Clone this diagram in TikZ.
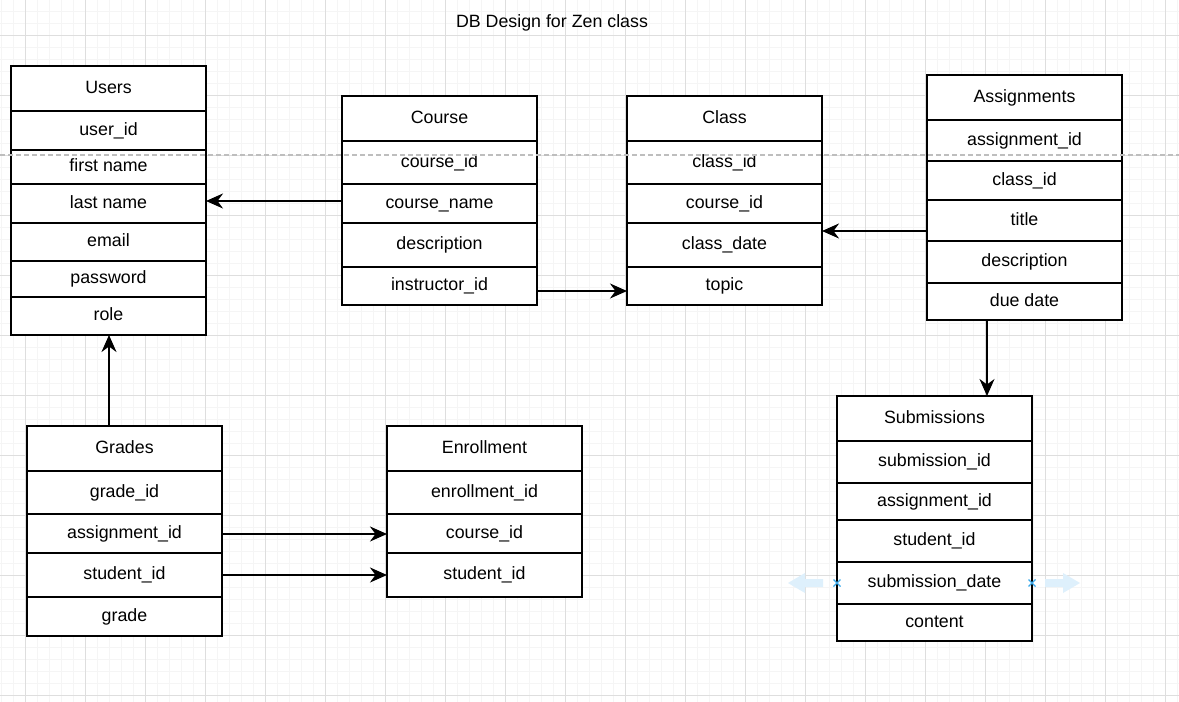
\documentclass[tikz,border=0pt]{standalone}
\usepackage{fontspec}
\setmainfont{Liberation Sans}
\usetikzlibrary{arrows.meta}
\definecolor{gridminor}{RGB}{245,245,245}
\definecolor{gridmajor}{RGB}{222,222,222}
\definecolor{dashgray}{RGB}{190,190,190}
\definecolor{hintblue}{RGB}{222,240,252}
\definecolor{crossblue}{RGB}{60,170,235}
\tikzset{
  cell/.style={draw=black, fill=white, line width=1.4pt, minimum width=195pt,
    anchor=north west, inner sep=0pt, outer sep=0pt,
    text height=13pt, text depth=4pt,
    font=\fontsize{17.8}{20}\selectfont},
  arr/.style={line width=1.8pt, -{Stealth[length=17pt,width=15pt,inset=5.5pt]}},
}
\begin{document}
\begin{tikzpicture}[x=1pt,y=-1pt]
\useasboundingbox (0,0) rectangle (1179,702);
\fill[white] (0,0) rectangle (1179,702);
% grid
\foreach \gx in {1,13,...,1179} \draw[gridminor, line width=0.8pt] (\gx,0) -- (\gx,702);
\foreach \gy in {11,23,...,702} \draw[gridminor, line width=0.8pt] (0,\gy) -- (1179,\gy);
\foreach \gx in {25,85,...,1179} \draw[gridmajor, line width=0.9pt] (\gx,0) -- (\gx,702);
\foreach \gy in {35,95,...,702} \draw[gridmajor, line width=0.9pt] (0,\gy) -- (1179,\gy);

% title
\node[font=\fontsize{17.8}{20}\selectfont, text height=13pt, text depth=4pt] (title) at (552,23) {DB Design for Zen class};

% Users
\node[cell, minimum height=45pt] (users) at (11,66) {Users};
\node[cell, minimum height=39pt] (uid) at (11,111) {user\_id};
\node[cell, minimum height=34pt] (ufirst) at (11,150) {first name};
\node[cell, minimum height=39pt] (ulast) at (11,184) {last name};
\node[cell, minimum height=38pt] (uemail) at (11,223) {email};
\node[cell, minimum height=36pt] (upass) at (11,261) {password};
\node[cell, minimum height=38pt] (urole) at (11,297) {role};

% Course
\node[cell, minimum height=45pt] (course) at (342,96) {Course};
\node[cell, minimum height=43pt] (cid) at (342,141) {course\_id};
\node[cell, minimum height=39pt] (cname) at (342,184) {course\_name};
\node[cell, minimum height=44pt] (cdesc) at (342,223) {description};
\node[cell, minimum height=38pt] (cinst) at (342,267) {instructor\_id};

% Class
\node[cell, minimum height=45pt] (class) at (627,96) {Class};
\node[cell, minimum height=43pt] (klid) at (627,141) {class\_id};
\node[cell, minimum height=39pt] (kcid) at (627,184) {course\_id};
\node[cell, minimum height=44pt] (kdate) at (627,223) {class\_date};
\node[cell, minimum height=38pt] (ktopic) at (627,267) {topic};

% Assignments
\node[cell, minimum height=45pt] (assign) at (927,75) {Assignments};
\node[cell, minimum height=41pt] (aid) at (927,120) {assignment\_id};
\node[cell, minimum height=39pt] (aclass) at (927,161) {class\_id};
\node[cell, minimum height=41pt] (atitle) at (927,200) {title};
\node[cell, minimum height=42pt] (adesc) at (927,241) {description};
\node[cell, minimum height=37pt] (adue) at (927,283) {due date};

% Submissions
\node[cell, minimum height=45pt] (sub) at (837,396) {Submissions};
\node[cell, minimum height=42pt] (sid) at (837,441) {submission\_id};
\node[cell, minimum height=37pt] (said) at (837,483) {assignment\_id};
\node[cell, minimum height=42pt] (sstud) at (837,520) {student\_id};
\node[cell, minimum height=42pt] (sdate) at (837,562) {submission\_date};
\node[cell, minimum height=37pt] (scont) at (837,604) {content};

% Grades
\node[cell, minimum height=45pt] (grades) at (27,426) {Grades};
\node[cell, minimum height=43pt] (gid) at (27,471) {grade\_id};
\node[cell, minimum height=39pt] (gaid) at (27,514) {assignment\_id};
\node[cell, minimum height=44pt] (gsid) at (27,553) {student\_id};
\node[cell, minimum height=39pt] (ggrade) at (27,597) {grade};

% Enrollment
\node[cell, minimum height=45pt] (enroll) at (387,426) {Enrollment};
\node[cell, minimum height=43pt] (eid) at (387,471) {enrollment\_id};
\node[cell, minimum height=39pt] (ecid) at (387,514) {course\_id};
\node[cell, minimum height=44pt] (esid) at (387,553) {student\_id};

% connectors
\draw[arr] ([yshift=2.5pt]cname.west) coordinate (p1) -- (p1 -| ulast.east);
\draw[arr] ([yshift=-5pt]cinst.east) coordinate (p2) -- (p2 -| ktopic.west);
\draw[arr] ([yshift=-10.5pt]atitle.west) coordinate (p3) -- (p3 -| kdate.east);
\draw[arr] ([xshift=-37.5pt]adue.south) coordinate (p4) -- (p4 |- sub.north);
\draw[arr] ([xshift=0.5pt]urole.south |- grades.north) coordinate (p5) -- (p5 |- urole.south);
\draw[arr] ([yshift=-0.5pt]gaid.east) coordinate (p6) -- (p6 -| ecid.west);
\draw[arr] (gsid.east) -- (gsid.east -| esid.west);

% dashed guide
\draw[dashgray, line width=1.1pt, dash pattern=on 5pt off 3pt] (0,155) -- (1179,155);

% selection hints
\fill[hintblue] (788,583) -- (805,573) -- (805,579) -- (823,579) -- (823,587) -- (805,587) -- (805,593) -- cycle;
\fill[hintblue] (1080,583) -- (1063,573) -- (1063,579) -- (1045,579) -- (1045,587) -- (1063,587) -- (1063,593) -- cycle;
\draw[crossblue, line width=1.3pt] (sdate.west) ++(-3.5,-3.5) -- ++(7,7) ++(0,-7) -- ++(-7,7);
\draw[crossblue, line width=1.3pt] (sdate.east) ++(-3.5,-3.5) -- ++(7,7) ++(0,-7) -- ++(-7,7);
\end{tikzpicture}
\end{document}
